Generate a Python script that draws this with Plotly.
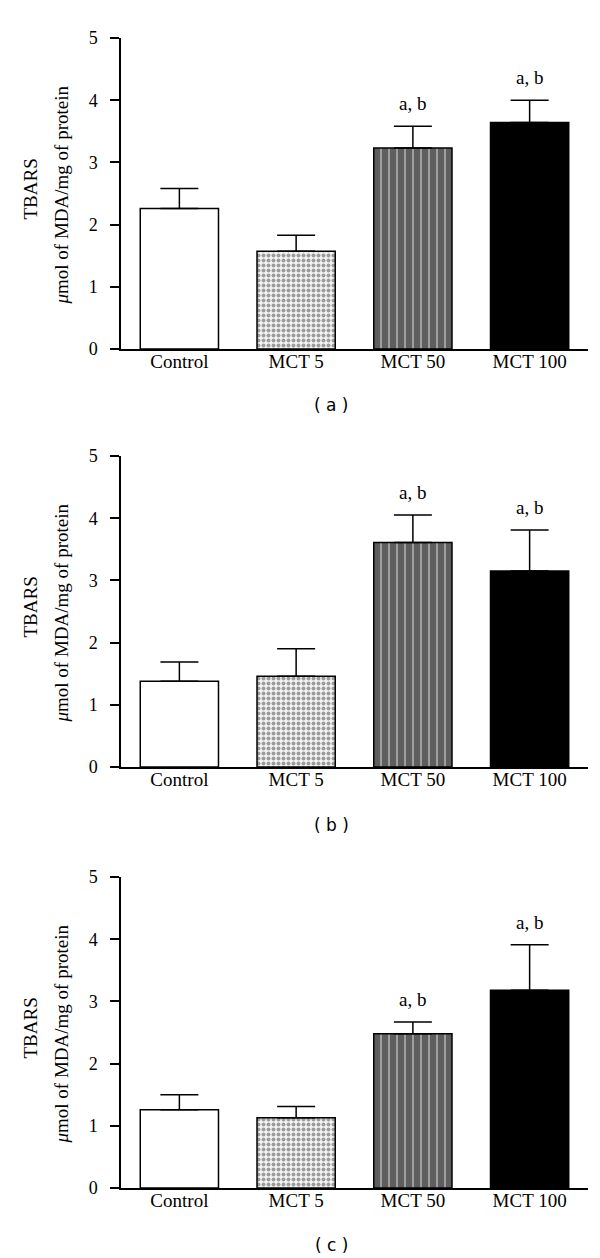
import plotly.graph_objects as go

# ---------------- data ----------------
categories = ["Control", "MCT 5", "MCT 50", "MCT 100"]

means_a = [2.26, 1.57, 3.23, 3.64]
upper_a = [2.58, 1.83, 3.58, 4.00]

means_b = [1.38, 1.46, 3.61, 3.15]
upper_b = [1.69, 1.90, 4.05, 3.81]

means_c = [1.26, 1.13, 2.48, 3.18]
upper_c = [1.50, 1.31, 2.67, 3.91]

sig_labels = ["", "", "a, b", "a, b"]
panel_labels = ["( a )", "( b )", "( c )"]
y_ticks = [0, 1, 2, 3, 4, 5]
y_title_1 = "TBARS"
y_title_2 = "<i>μ</i>mol of MDA/mg of protein"

panels = [(means_a, upper_a), (means_b, upper_b), (means_c, upper_c)]

# ---------------- layout geometry (pixels) ----------------
W, H = 600, 1258
ML, MR, MT, MB = 113, 20, 30, 78
PW = W - ML - MR
PH = H - MT - MB
panel_px = [(30, 341), (448, 759), (869, 1180)]  # top, bottom in px
label_px_y = [397, 817, 1237]


def py(pxy):
    return 1 - (pxy - MT) / PH


def px(pxx):
    return (pxx - ML) / PW


SERIF = "Liberation Serif, Times New Roman, serif"

bar_colors = ["white", "#f4f4f4", "#5e5e5e", "black"]
pat_shapes = ["", ".", "|", ""]
pat_fg = ["black", "#d9d9d9", "white", "black"]
pat_size = [8, 5, 8, 8]
pat_sol = [0.3, 0.5, 0.2, 0.3]

fig = go.Figure()
annotations = []

for i, (means, upper) in enumerate(panels):
    n = i + 1
    xa = "x" if n == 1 else f"x{n}"
    ya = "y" if n == 1 else f"y{n}"
    err = [u - m for u, m in zip(upper, means)]
    fig.add_trace(go.Bar(
        x=categories, y=means, xaxis=xa, yaxis=ya, width=0.67,
        marker=dict(
            color=bar_colors,
            line=dict(color="black", width=1.5),
            pattern=dict(shape=pat_shapes, fgcolor=pat_fg,
                         size=pat_size, solidity=pat_sol, fillmode="overlay"),
        ),
        error_y=dict(type="data", symmetric=False, array=err,
                     arrayminus=[0] * len(err), color="black",
                     thickness=1.5, width=19),
        showlegend=False, hoverinfo="skip",
    ))
    top, bot = panel_px[i]
    dom = [py(bot), py(top)]
    xkey = "xaxis" if n == 1 else f"xaxis{n}"
    ykey = "yaxis" if n == 1 else f"yaxis{n}"
    fig.update_layout({
        xkey: dict(domain=[0, 1], anchor=ya, range=[-0.5, 3.5],
                   showline=True, linecolor="black", linewidth=1.5,
                   ticks="", showgrid=False, zeroline=False,
                   ticklabelstandoff=-6,
                   tickfont=dict(family=SERIF, size=19, color="black"),
                   fixedrange=True),
        ykey: dict(domain=dom, anchor=xa, range=[0, 5],
                   tickvals=y_ticks, showline=True, linecolor="black",
                   linewidth=1.5, ticks="outside", ticklen=9, tickwidth=1.5,
                   tickcolor="black", showgrid=False, zeroline=False,
                   ticklabelstandoff=9,
                   tickfont=dict(family=SERIF, size=18, color="black"),
                   fixedrange=True),
    })
    # significance labels
    for c, u, s in zip(categories, upper, sig_labels):
        if s:
            annotations.append(dict(x=c, y=u, xref=xa, yref=ya, text=s,
                                    showarrow=False, yanchor="bottom", yshift=10,
                                    font=dict(family=SERIF, size=19, color="black")))
    # y titles
    mid = (top + bot) / 2
    annotations.append(dict(x=px(22), y=py(mid - 4), xref="paper", yref="paper",
                            text=y_title_1, textangle=-90, showarrow=False,
                            xanchor="center", yanchor="middle",
                            font=dict(family=SERIF, size=19, color="black")))
    annotations.append(dict(x=px(53), y=py(mid + 2), xref="paper", yref="paper",
                            text=y_title_2, textangle=-90, showarrow=False,
                            xanchor="center", yanchor="middle",
                            font=dict(family=SERIF, size=19, color="black")))
    # panel label
    annotations.append(dict(x=px(323), y=py(label_px_y[i]), xref="paper", yref="paper",
                            text=panel_labels[i], showarrow=False,
                            xanchor="center", yanchor="middle",
                            font=dict(family="DejaVu Sans, Verdana, sans-serif",
                                      size=17, color="black")))

fig.update_layout(
    width=W, height=H,
    margin=dict(l=ML, r=MR, t=MT, b=MB),
    paper_bgcolor="white", plot_bgcolor="white",
    annotations=annotations,
    bargap=0.33,
)

fig.write_html("out.html")
